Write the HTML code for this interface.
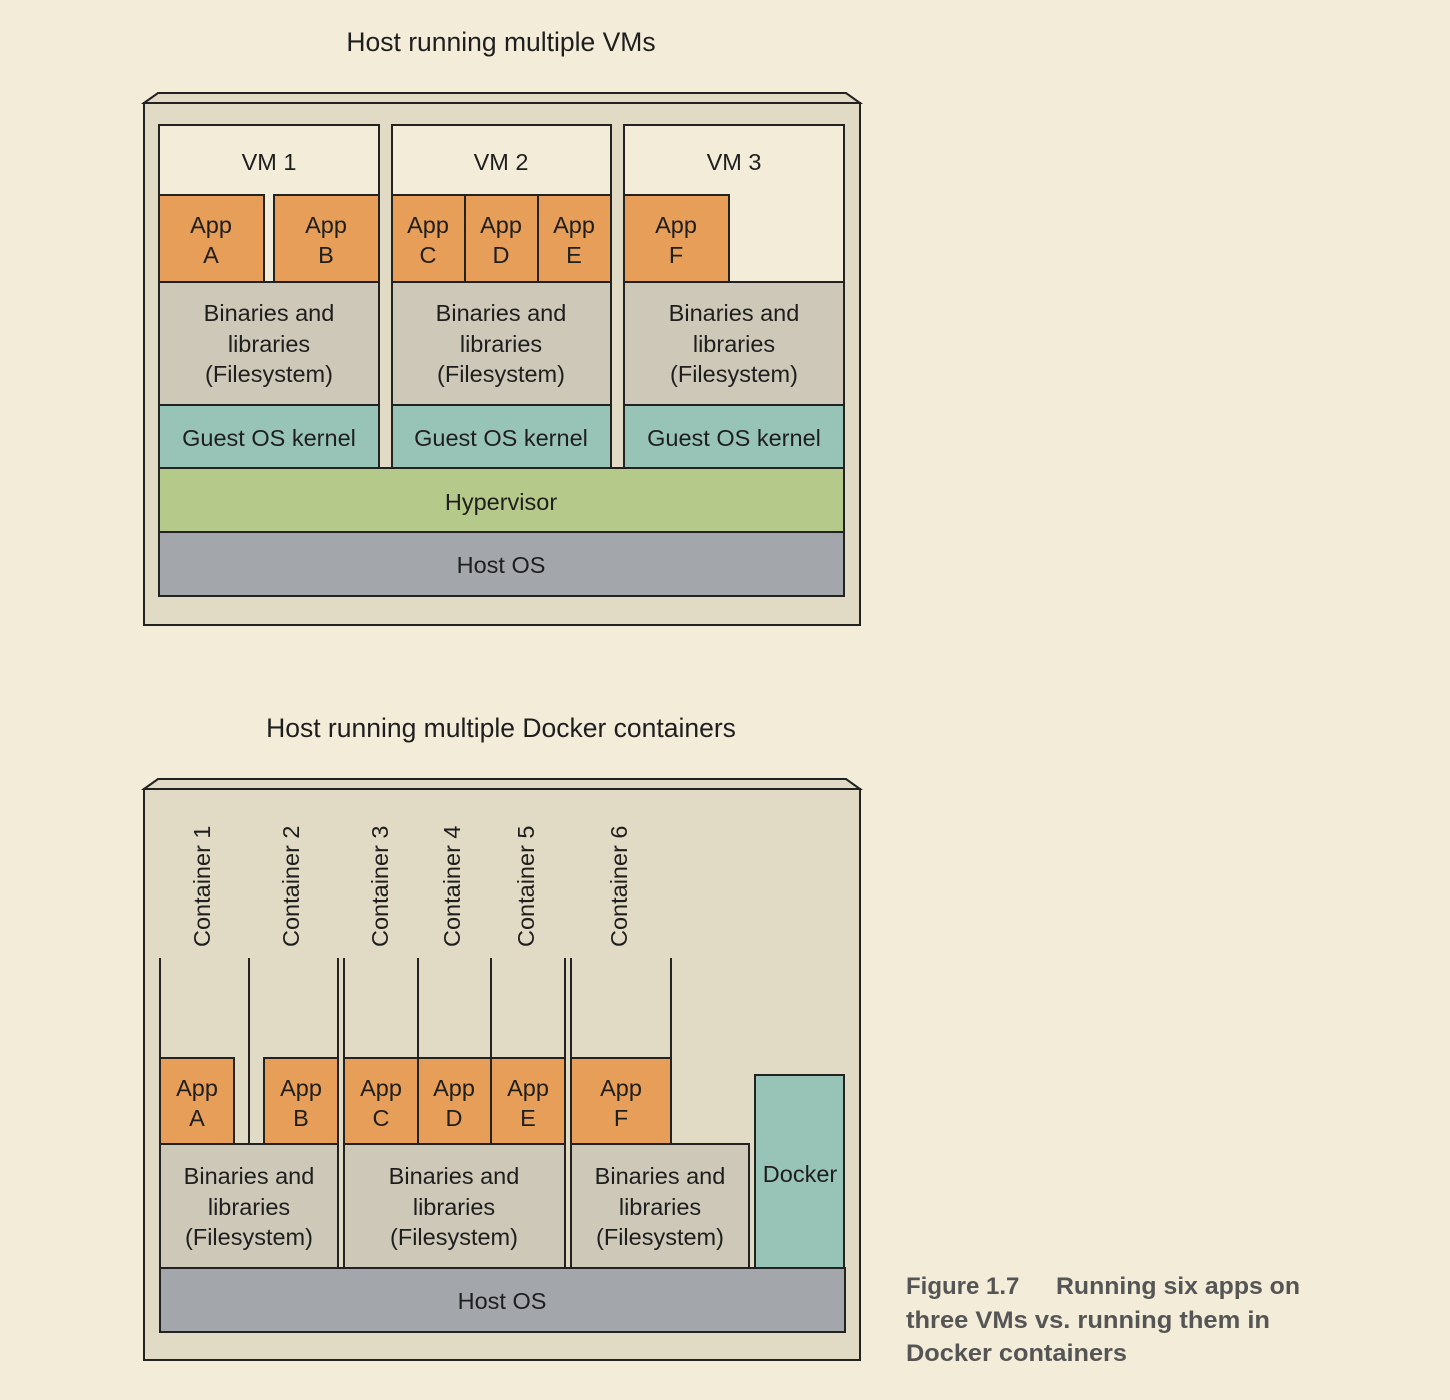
<!DOCTYPE html>
<html><head><meta charset="utf-8"><style>
html,body{margin:0;padding:0;background:#f2ecd8;}
svg{display:block;}
text{font-family:"Liberation Sans",sans-serif;fill:#1e1e1e;}
</style></head><body>
<svg width="1450" height="1400" viewBox="0 0 1450 1400">
<rect width="1450" height="1400" fill="#f2ecd8"/>
<g stroke="#222" stroke-width="2">
<g>
<polygon points="144,103 158,93 846,93 860,103" fill="#e1dbc6"/>
<rect x="144" y="103" width="716" height="522" fill="#e1dbc6"/>
</g>
<g>
<rect x="159" y="125" width="220" height="343" fill="#f2ecd8"/>
<rect x="159" y="195" width="105" height="87" fill="#e69e58"/>
<rect x="274" y="195" width="105" height="87" fill="#e69e58"/>
<rect x="159" y="282" width="220" height="123" fill="#cdc8b7"/>
<rect x="159" y="405" width="220" height="63" fill="#98c4b8"/>
</g>
<g>
<rect x="392" y="125" width="219" height="343" fill="#f2ecd8"/>
<rect x="392" y="195" width="73" height="87" fill="#e69e58"/>
<rect x="465" y="195" width="73" height="87" fill="#e69e58"/>
<rect x="538" y="195" width="73" height="87" fill="#e69e58"/>
<rect x="392" y="282" width="219" height="123" fill="#cdc8b7"/>
<rect x="392" y="405" width="219" height="63" fill="#98c4b8"/>
</g>
<g>
<rect x="624" y="125" width="220" height="343" fill="#f2ecd8"/>
<rect x="624" y="195" width="105" height="87" fill="#e69e58"/>
<rect x="624" y="282" width="220" height="123" fill="#cdc8b7"/>
<rect x="624" y="405" width="220" height="63" fill="#98c4b8"/>
</g>
<rect x="159" y="468" width="685" height="64" fill="#b4c98a"/>
<rect x="159" y="532" width="685" height="64" fill="#a3a7ab"/>

<g>
<polygon points="144,789 158,779 846,779 860,789" fill="#e1dbc6"/>
<rect x="144" y="789" width="716" height="571" fill="#e1dbc6"/>
</g>
<line x1="160" y1="958" x2="160" y2="1058"/>
<line x1="249" y1="958" x2="249" y2="1144"/>
<line x1="338" y1="958" x2="338" y2="1268"/>
<line x1="344" y1="958" x2="344" y2="1268"/>
<line x1="418" y1="958" x2="418" y2="1058"/>
<line x1="491" y1="958" x2="491" y2="1058"/>
<line x1="565" y1="958" x2="565" y2="1268"/>
<line x1="571" y1="958" x2="571" y2="1268"/>
<line x1="671" y1="958" x2="671" y2="1058"/>
<rect x="160" y="1058" width="74" height="86" fill="#e69e58"/>
<rect x="264" y="1058" width="74" height="86" fill="#e69e58"/>
<rect x="344" y="1058" width="74" height="86" fill="#e69e58"/>
<rect x="418" y="1058" width="73" height="86" fill="#e69e58"/>
<rect x="491" y="1058" width="74" height="86" fill="#e69e58"/>
<rect x="571" y="1058" width="100" height="86" fill="#e69e58"/>
<rect x="160" y="1144" width="178" height="124" fill="#cdc8b7"/>
<rect x="344" y="1144" width="221" height="124" fill="#cdc8b7"/>
<rect x="571" y="1144" width="178" height="124" fill="#cdc8b7"/>
<rect x="755" y="1075" width="89" height="193" fill="#98c4b8"/>
<rect x="160" y="1268" width="685" height="64" fill="#a3a7ab"/>
</g>

<g font-size="23.5" text-anchor="middle" stroke="none">
<text x="501" y="51" font-size="26.5">Host running multiple VMs</text>
<text x="269" y="170">VM 1</text><text x="501" y="170">VM 2</text><text x="734" y="170">VM 3</text>
<text x="211" y="233">App</text><text x="211" y="263">A</text>
<text x="326" y="233">App</text><text x="326" y="263">B</text>
<text x="428" y="233">App</text><text x="428" y="263">C</text>
<text x="501" y="233">App</text><text x="501" y="263">D</text>
<text x="574" y="233">App</text><text x="574" y="263">E</text>
<text x="676" y="233">App</text><text x="676" y="263">F</text>
<text x="269" y="321">Binaries and</text><text x="269" y="352">libraries</text><text x="269" y="382">(Filesystem)</text>
<text x="501" y="321">Binaries and</text><text x="501" y="352">libraries</text><text x="501" y="382">(Filesystem)</text>
<text x="734" y="321">Binaries and</text><text x="734" y="352">libraries</text><text x="734" y="382">(Filesystem)</text>
<text x="269" y="446">Guest OS kernel</text><text x="501" y="446">Guest OS kernel</text><text x="734" y="446">Guest OS kernel</text>
<text x="501" y="510">Hypervisor</text>
<text x="501" y="573">Host OS</text>

<text x="501" y="737" font-size="26.5">Host running multiple Docker containers</text>
<g text-anchor="start">
<text transform="translate(210,947) rotate(-90)">Container 1</text>
<text transform="translate(299,947) rotate(-90)">Container 2</text>
<text transform="translate(388,947) rotate(-90)">Container 3</text>
<text transform="translate(460,947) rotate(-90)">Container 4</text>
<text transform="translate(534,947) rotate(-90)">Container 5</text>
<text transform="translate(627,947) rotate(-90)">Container 6</text>
</g>
<text x="197" y="1096">App</text><text x="197" y="1126">A</text>
<text x="301" y="1096">App</text><text x="301" y="1126">B</text>
<text x="381" y="1096">App</text><text x="381" y="1126">C</text>
<text x="454" y="1096">App</text><text x="454" y="1126">D</text>
<text x="528" y="1096">App</text><text x="528" y="1126">E</text>
<text x="621" y="1096">App</text><text x="621" y="1126">F</text>
<text x="249" y="1184">Binaries and</text><text x="249" y="1215">libraries</text><text x="249" y="1245">(Filesystem)</text>
<text x="454" y="1184">Binaries and</text><text x="454" y="1215">libraries</text><text x="454" y="1245">(Filesystem)</text>
<text x="660" y="1184">Binaries and</text><text x="660" y="1215">libraries</text><text x="660" y="1245">(Filesystem)</text>
<text x="800" y="1182">Docker</text>
<text x="502" y="1309">Host OS</text>
</g>

<g font-size="24" font-weight="bold" stroke="none">
<text x="906" y="1294" style="fill:#555">Figure 1.7</text>
<text x="1056" y="1294" style="fill:#555" textLength="244" lengthAdjust="spacingAndGlyphs">Running six apps on</text>
<text x="906" y="1328" style="fill:#555" textLength="364" lengthAdjust="spacingAndGlyphs">three VMs vs. running them in</text>
<text x="906" y="1361" style="fill:#555" textLength="221" lengthAdjust="spacingAndGlyphs">Docker containers</text>
</g>
</svg>
</body></html>
